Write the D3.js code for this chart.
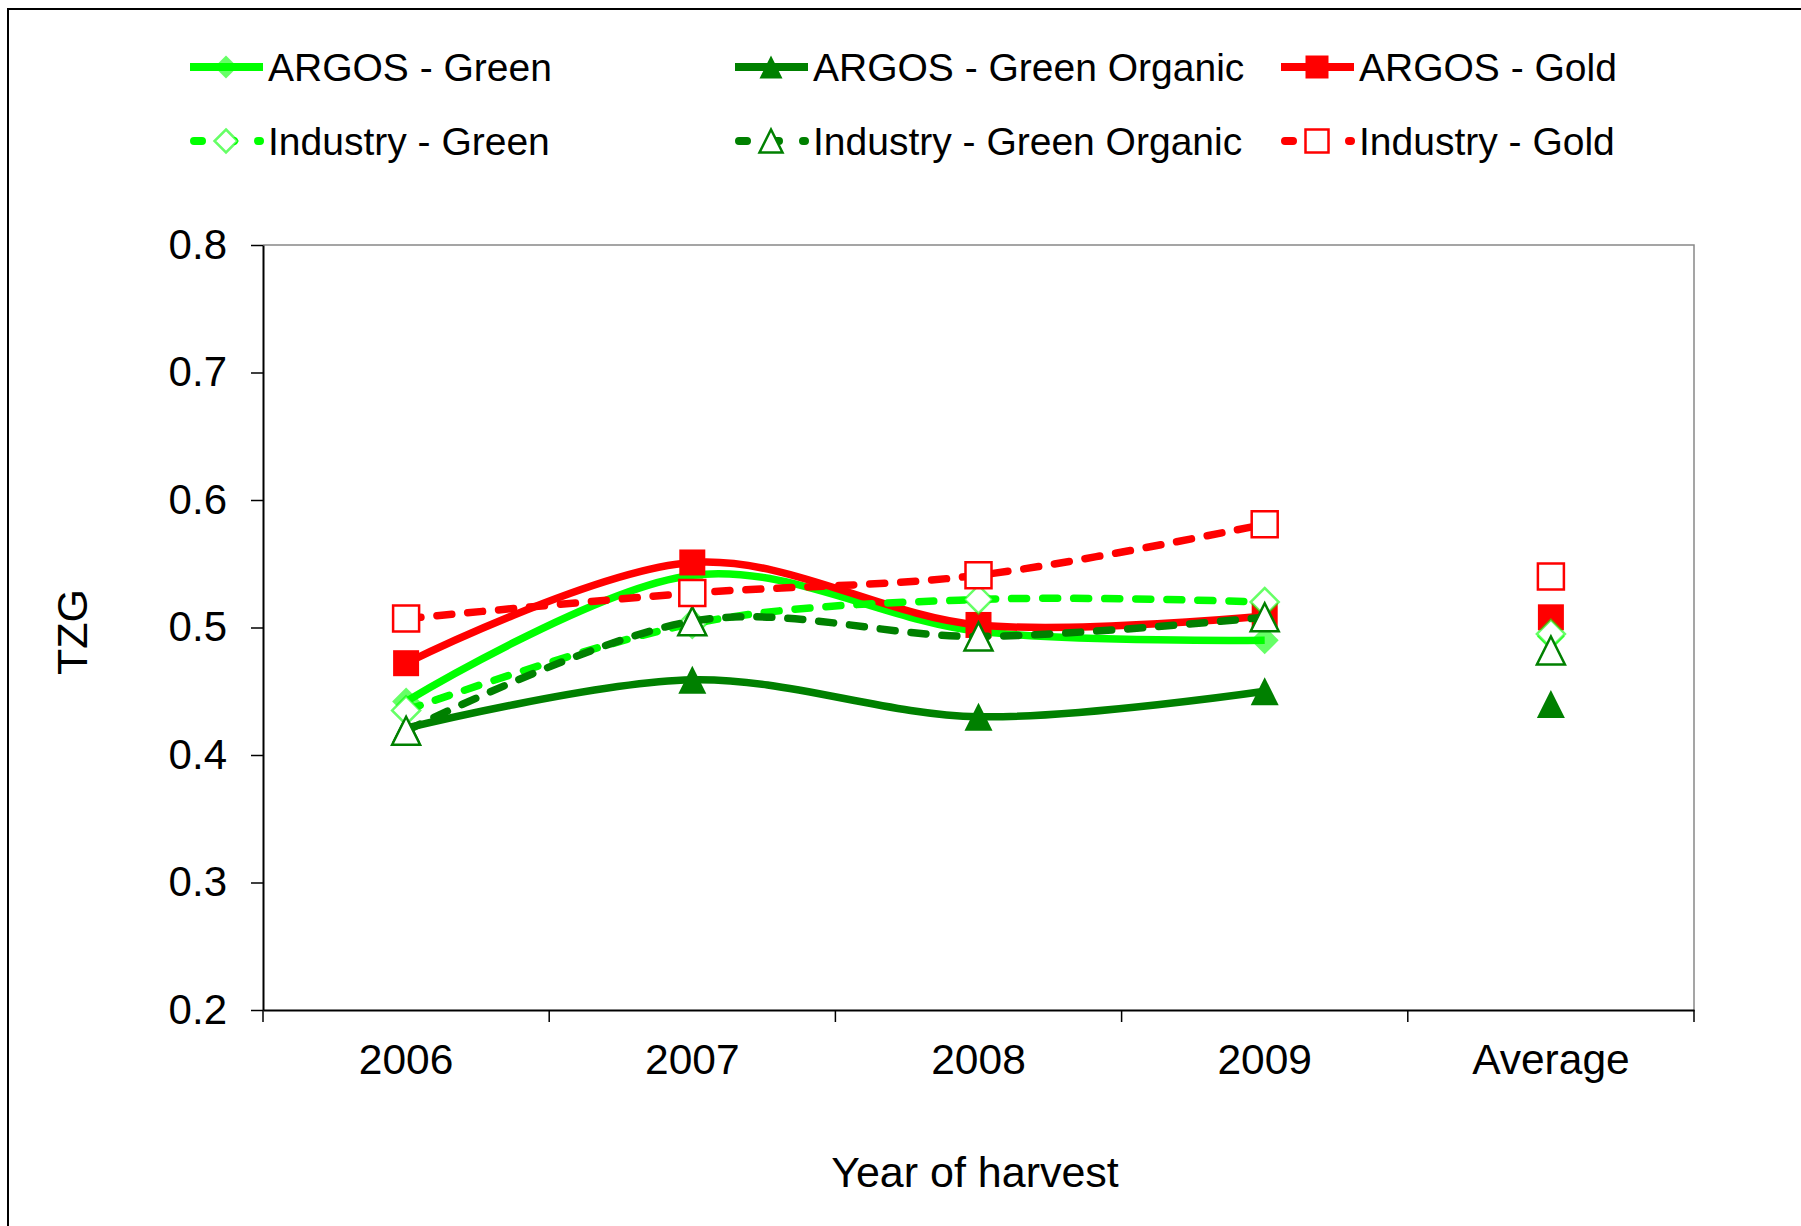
<!DOCTYPE html>
<html>
<head>
<meta charset="utf-8">
<script src="https://cdn.jsdelivr.net/npm/d3@7"></script>
<style>
  body { margin: 0; background: #fff; }
  text { font-family: "Liberation Sans", Arial, sans-serif; fill: #000; }
</style>
</head>
<body>
<svg id="chart"></svg>
<script>
const width = 1801;
const height = 1226;

// data
const categories = ["2006", "2007", "2008", "2009", "Average"];
const yTicks = [0.2, 0.3, 0.4, 0.5, 0.6, 0.7, 0.8];
const argosGreen = [0.442, 0.541, 0.497, 0.490, 0.493];
const argosGreenOrganic = [0.421, 0.459, 0.430, 0.450, 0.440];
const argosGold = [0.472, 0.551, 0.502, 0.509, 0.508];
const industryGreen = [0.435, 0.503, 0.522, 0.520, 0.495];
const industryGreenOrganic = [0.419, 0.505, 0.493, 0.508, 0.482];
const industryGold = [0.507, 0.527, 0.541, 0.581, 0.540];

const series = [
  { name: "ARGOS - Green", values: argosGreen, color: "#00ff00", dashed: false, marker: "diamond", filled: true },
  { name: "ARGOS - Green Organic", values: argosGreenOrganic, color: "#008000", dashed: false, marker: "triangle", filled: true },
  { name: "ARGOS - Gold", values: argosGold, color: "#ff0000", dashed: false, marker: "square", filled: true },
  { name: "Industry - Green", values: industryGreen, color: "#00ff00", dashed: true, marker: "diamond", filled: false },
  { name: "Industry - Green Organic", values: industryGreenOrganic, color: "#008000", dashed: true, marker: "triangle", filled: false },
  { name: "Industry - Gold", values: industryGold, color: "#ff0000", dashed: true, marker: "square", filled: false }
];

const plot = { left: 263, right: 1694, top: 245, bottom: 1010 };

const svg = d3.select("#chart")
    .attr("width", width)
    .attr("height", height);

svg.append("rect")
    .attr("width", width).attr("height", height)
    .attr("fill", "#fff");

// outer chart border
svg.append("rect")
    .attr("x", 8).attr("y", 9)
    .attr("width", width + 20).attr("height", height + 20)
    .attr("fill", "none")
    .attr("stroke", "#000")
    .attr("stroke-width", 2);

const x = d3.scaleBand()
    .domain(categories)
    .range([plot.left, plot.right]);

const y = d3.scaleLinear()
    .domain([0.2, 0.8])
    .range([plot.bottom, plot.top]);

const cx = c => x(c) + x.bandwidth() / 2;

// plot frame (top/right grey)
svg.append("path")
    .attr("d", `M${plot.left},${plot.top}H${plot.right}V${plot.bottom}`)
    .attr("fill", "none")
    .attr("stroke", "#888")
    .attr("stroke-width", 1.5);

// y axis
const yAxis = svg.append("g")
    .attr("transform", `translate(${plot.left},0)`)
    .call(d3.axisLeft(y).tickValues(yTicks).tickFormat(d3.format(".1f"))
      .tickSize(12).tickSizeOuter(0).tickPadding(24));
yAxis.select(".domain").attr("stroke", "#000").attr("stroke-width", 2);
yAxis.selectAll(".tick line").attr("stroke", "#000").attr("stroke-width", 1.5);
yAxis.selectAll(".tick text")
    .attr("font-size", 42)
    .attr("font-family", "'Liberation Sans', Arial, sans-serif");

// x axis: labels centred in bands, ticks on band edges
const xAxis = svg.append("g")
    .attr("transform", `translate(0,${plot.bottom})`)
    .call(d3.axisBottom(x).tickSize(0).tickPadding(34));
xAxis.select(".domain").attr("stroke", "#000").attr("stroke-width", 2);
xAxis.selectAll(".tick text")
    .attr("font-size", 42.5)
    .attr("font-family", "'Liberation Sans', Arial, sans-serif");

const edges = categories.map(c => x(c)).concat([plot.right]);
svg.append("g").selectAll("line")
    .data(edges)
  .enter().append("line")
    .attr("x1", d => d).attr("x2", d => d)
    .attr("y1", plot.bottom).attr("y2", plot.bottom + 12)
    .attr("stroke", "#000")
    .attr("stroke-width", 1.5);

// axis titles
svg.append("text")
    .attr("transform", "translate(87,632) rotate(-90)")
    .attr("text-anchor", "middle")
    .attr("font-size", 43)
    .text("TZG");

svg.append("text")
    .attr("x", 975).attr("y", 1187)
    .attr("text-anchor", "middle")
    .attr("font-size", 43)
    .text("Year of harvest");

// marker shapes
function markerPath(type, s) {
  const h = s / 2;
  if (type === "square") return `M${-h},${-h}H${h}V${h}H${-h}Z`;
  if (type === "diamond") return `M0,${-h}L${h},0L0,${h}L${-h},0Z`;
  return `M0,${-h}L${h},${h}L${-h},${h}Z`;
}

function styleMarker(sel, s) {
  sel.attr("fill", s.filled ? s.color : "#fff")
    .attr("fill-opacity", s.filled && s.marker === "diamond" ? 0.6 : 1)
    .attr("stroke", s.filled ? "none" : s.color)
    .attr("stroke-opacity", s.marker === "diamond" ? 0.6 : 1)
    .attr("stroke-width", 2.5);
}

const line = d3.line()
    .x((d, i) => cx(categories[i]))
    .y(d => y(d))
    .curve(d3.curveCatmullRom.alpha(0));

series.forEach(s => {
  const g = svg.append("g");
  g.append("path")
      .datum(s.values.slice(0, 4))
      .attr("d", line)
      .attr("fill", "none")
      .attr("stroke", s.color)
      .attr("stroke-width", 7.5)
      .attr("stroke-linecap", s.dashed ? "round" : "butt")
      .attr("stroke-dasharray", s.dashed ? "15,16" : null);

  const size = s.marker === "square" ? 26 : 28;
  g.selectAll(".pt")
      .data(s.values)
    .enter().append("path")
      .attr("class", "pt")
      .attr("transform", (d, i) => `translate(${cx(categories[i])},${y(d)})`)
      .attr("d", markerPath(s.marker, size))
      .call(styleMarker, s);
});

// legend
const legendCols = [190, 735, 1281];
const legendRows = [67, 141];
series.forEach((s, i) => {
  const lx = legendCols[i % 3];
  const ly = legendRows[Math.floor(i / 3)];
  const g = svg.append("g").attr("transform", `translate(${lx},${ly})`);
  g.append("line")
      .attr("x1", s.dashed ? 4 : 0).attr("x2", s.dashed ? 70 : 73)
      .attr("y1", 0).attr("y2", 0)
      .attr("stroke", s.color)
      .attr("stroke-width", 8)
      .attr("stroke-linecap", s.dashed ? "round" : "butt")
      .attr("stroke-dasharray", s.dashed ? "8,24" : null);
  g.append("path")
      .attr("transform", "translate(36,0)")
      .attr("d", markerPath(s.marker, 23))
      .call(styleMarker, s);
  g.append("text")
      .attr("x", 78).attr("y", 14)
      .attr("font-size", 39)
      .text(s.name);
});
</script>
</body>
</html>
